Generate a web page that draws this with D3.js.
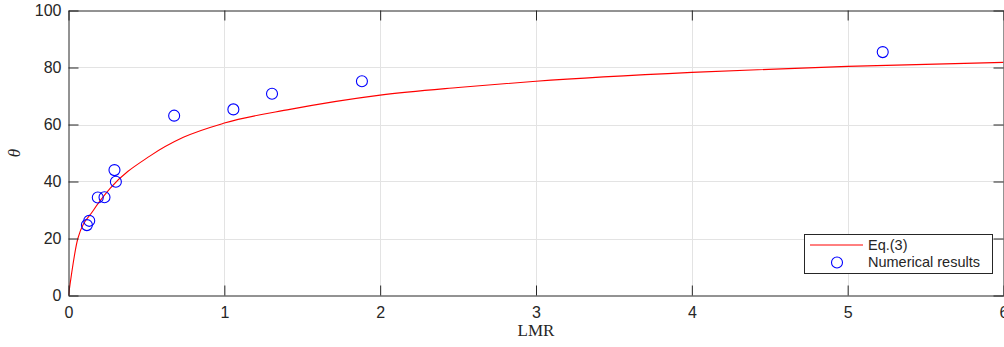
<!DOCTYPE html>
<html>
<head>
<meta charset="utf-8">
<script src="https://cdn.jsdelivr.net/npm/d3@7"></script>
<style>
  html, body { margin: 0; padding: 0; background: #fff; }
  svg { display: block; }
</style>
</head>
<body>
<svg id="chart" width="1004" height="347"></svg>
<script>
// ---- Data ----
const curveLMR   = [0, 0.06, 0.16, 0.267, 0.524, 0.737, 1.0, 1.421, 2.0, 2.5, 3.0, 4.0, 5.0, 6.0];
const curveTheta = [0, 20.0, 29.9, 37.6, 49.0, 55.5, 60.5, 65.3, 70.3, 73.0, 75.2, 78.3, 80.4, 81.8];

const numLMR   = [0.118, 0.133, 0.188, 0.231, 0.295, 0.304, 0.678, 1.058, 1.306, 1.883, 5.225];
const numTheta = [24.7, 26.2, 34.4, 34.5, 44.0, 39.9, 63.1, 65.3, 70.8, 75.2, 85.4];

const xTicks = [0, 1, 2, 3, 4, 5, 6];
const yTicks = [0, 20, 40, 60, 80, 100];
const legendLabels = ["Eq.(3)", "Numerical results"];

// ---- Layout ----
const svg = d3.select("#chart");
const L = 68.5, R = 1003.5, T = 10.5, B = 295.5;
const axisColor = "#262626";
const font = "'Liberation Sans', Arial, Helvetica, sans-serif";

const x = d3.scaleLinear().domain([0, 6]).range([L, R]);
const y = d3.scaleLinear().domain([0, 100]).range([B, T]);

// grid
const g = svg.append("g");
g.selectAll(".gx").data(xTicks.slice(1, -1)).enter().append("line")
  .attr("x1", d => Math.round(x(d)) + 0.5).attr("x2", d => Math.round(x(d)) + 0.5)
  .attr("y1", T).attr("y2", B)
  .attr("stroke", "#e3e3e3").attr("stroke-width", 1);
g.selectAll(".gy").data(yTicks.slice(1, -1)).enter().append("line")
  .attr("y1", d => Math.round(y(d)) + 0.5).attr("y2", d => Math.round(y(d)) + 0.5)
  .attr("x1", L).attr("x2", R)
  .attr("stroke", "#e3e3e3").attr("stroke-width", 1);

// clip
svg.append("clipPath").attr("id", "clip").append("rect")
  .attr("x", L).attr("y", T).attr("width", R - L).attr("height", B - T);

// curve
const line = d3.line()
  .x((d, i) => x(curveLMR[i]))
  .y((d, i) => y(curveTheta[i]))
  .curve(d3.curveMonotoneX);
svg.append("path")
  .datum(curveLMR)
  .attr("clip-path", "url(#clip)")
  .attr("d", line)
  .attr("fill", "none")
  .attr("stroke", "#ff0000")
  .attr("stroke-width", 1.1);

// numerical points
svg.selectAll(".pt").data(numLMR).enter().append("circle")
  .attr("cx", d => x(d))
  .attr("cy", (d, i) => y(numTheta[i]))
  .attr("r", 5.5)
  .attr("fill", "none")
  .attr("stroke", "#0000ff")
  .attr("stroke-width", 1.1);

// axes (MATLAB style: ticks inward, box)
const tickLen = 10;
const xAxisB = d3.axisBottom(x).tickValues(xTicks).tickSizeInner(-tickLen).tickSizeOuter(0).tickPadding(11).tickFormat(d3.format("d"));
const xAxisT = d3.axisTop(x).tickValues(xTicks).tickSizeInner(-tickLen).tickSizeOuter(0).tickFormat("");
const yAxisL = d3.axisLeft(y).tickValues(yTicks).tickSizeInner(-tickLen).tickSizeOuter(0).tickPadding(7).tickFormat(d3.format("d"));
const yAxisR = d3.axisRight(y).tickValues(yTicks).tickSizeInner(-tickLen).tickSizeOuter(0).tickFormat("");

function styleAxis(sel) {
  sel.selectAll("path").attr("stroke", axisColor).attr("stroke-width", 1);
  sel.selectAll("line").attr("stroke", axisColor).attr("stroke-width", 1);
  sel.selectAll("text").attr("fill", axisColor).style("font-family", font).style("font-size", "16px");
}
svg.append("g").attr("transform", `translate(0,${B})`).call(xAxisB).call(styleAxis);
svg.append("g").attr("transform", `translate(0,${T})`).call(xAxisT).call(styleAxis);
svg.append("g").attr("transform", `translate(${L},0)`).call(yAxisL).call(styleAxis);
svg.append("g").attr("transform", `translate(${R},0)`).call(yAxisR).call(styleAxis);

// axis labels
svg.append("text")
  .attr("x", (L + R) / 2).attr("y", 336)
  .attr("text-anchor", "middle")
  .attr("fill", axisColor)
  .style("font-family", "'Liberation Serif', 'DejaVu Serif', serif")
  .style("font-size", "17px")
  .text("LMR");
svg.append("text")
  .attr("transform", `translate(20,${(T + B) / 2}) rotate(-90)`)
  .attr("text-anchor", "middle")
  .attr("fill", axisColor)
  .style("font-family", "'Liberation Serif', 'DejaVu Serif', serif")
  .style("font-style", "italic")
  .style("font-size", "17px")
  .text("θ");

// legend
const lg = svg.append("g");
lg.append("rect")
  .attr("x", 804.5).attr("y", 234.5).attr("width", 188).attr("height", 39)
  .attr("fill", "#fff").attr("stroke", axisColor).attr("stroke-width", 1);
lg.append("line")
  .attr("x1", 810).attr("x2", 863).attr("y1", 245).attr("y2", 245)
  .attr("stroke", "#ff0000").attr("stroke-width", 1);
lg.append("circle")
  .attr("cx", 837).attr("cy", 262.5).attr("r", 5.5)
  .attr("fill", "none").attr("stroke", "#0000ff").attr("stroke-width", 1.1);
lg.selectAll(".lt").data(legendLabels).enter().append("text")
  .attr("x", 868).attr("y", (d, i) => 250 + i * 17)
  .attr("fill", axisColor)
  .style("font-family", font).style("font-size", "14.5px")
  .text(d => d);
</script>
</body>
</html>
